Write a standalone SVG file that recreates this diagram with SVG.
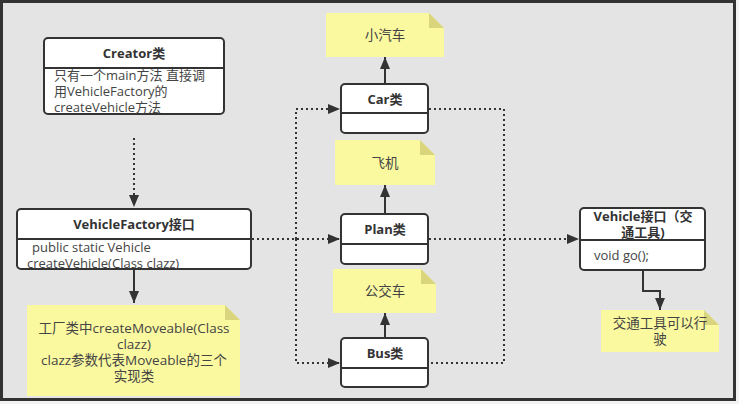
<svg xmlns="http://www.w3.org/2000/svg" width="739" height="404" viewBox="0 0 739 404">
<defs>
<style>
.box{fill:#fff;stroke:#333;stroke-width:2}
.div{stroke:#333;stroke-width:2}
.note{fill:#fbf9a0}
.fold{fill:#d9d47e}
.t{font-family:"Open Sans","Noto Sans CJK SC",sans-serif;font-size:13px;fill:#444}
.n{font-size:13.5px}
.b{font-family:"Open Sans","Noto Sans CJK SC",sans-serif;font-size:13px;font-weight:bold;fill:#333}
.c{text-anchor:middle}
.dot{fill:none;stroke:#333;stroke-width:2;stroke-dasharray:2 3}
.sol{fill:none;stroke:#333;stroke-width:2}
</style>
<marker id="ah" viewBox="0 0 12 10" refX="12" refY="5" markerWidth="12" markerHeight="10" markerUnits="userSpaceOnUse" orient="auto">
<path d="M0,0 L12,5 L0,10 Z" fill="#333"/>
</marker>
</defs>
<rect x="0" y="0" width="739" height="404" fill="#f2f2f2"/>
<rect x="1.5" y="1.5" width="733" height="398" fill="#e4e4e4" stroke="#333" stroke-width="3"/>

<g id="connectors">
<path class="dot" d="M134,138 V207" marker-end="url(#ah)"/>
<path class="sol" d="M134,269 V303" marker-end="url(#ah)"/>
<path class="dot" d="M252,239 H340" marker-end="url(#ah)"/>
<path class="dot" d="M296,239 V109 H340" marker-end="url(#ah)"/>
<path class="dot" d="M296,239 V363 H340" marker-end="url(#ah)"/>
<path class="dot" d="M429,109 H504 V363 H429"/>
<path class="dot" d="M429,239 H579" marker-end="url(#ah)"/>
<path class="sol" d="M385,83 V57" marker-end="url(#ah)"/>
<path class="sol" d="M385,214 V185" marker-end="url(#ah)"/>
<path class="sol" d="M385,338 V313" marker-end="url(#ah)"/>
<path class="sol" d="M643,271 V291 H660 V310" marker-end="url(#ah)"/>
</g>

<g id="creator">
<rect class="box" x="44" y="38" width="180" height="76" rx="4"/>
<line class="div" x1="44" y1="68" x2="224" y2="68"/>
<text class="b c" x="134" y="58">Creator类</text>
<text class="t" x="54" y="80">只有一个main方法 直接调</text>
<text class="t" x="54" y="96">用VehicleFactory的</text>
<text class="t" x="54" y="112">createVehicle方法</text>
</g>

<g id="factory">
<rect class="box" x="17" y="209" width="234" height="60" rx="4"/>
<line class="div" x1="17" y1="239" x2="251" y2="239"/>
<text class="b c" x="134" y="229">VehicleFactory接口</text>
<text class="t" x="32" y="252">public static Vehicle</text>
<text class="t" x="27" y="268">createVehicle(Class clazz)</text>
</g>

<g id="factory-note">
<path class="note" d="M27,305 H225 L240,320 V396 H27 Z"/>
<path class="fold" d="M225,305 L240,320 H225 Z"/>
<text class="t n c" x="134" y="333">工厂类中createMoveable(Class</text>
<text class="t n c" x="134" y="349">clazz)</text>
<text class="t n c" x="134" y="365">clazz参数代表Moveable的三个</text>
<text class="t n c" x="134" y="381">实现类</text>
</g>

<g id="car">
<rect class="box" x="341" y="84" width="87" height="49" rx="4"/>
<line class="div" x1="341" y1="113" x2="428" y2="113"/>
<text class="b c" x="385" y="104">Car类</text>
</g>

<g id="plan">
<rect class="box" x="341" y="214" width="87" height="50" rx="4"/>
<line class="div" x1="341" y1="244" x2="428" y2="244"/>
<text class="b c" x="385" y="234">Plan类</text>
</g>

<g id="bus">
<rect class="box" x="341" y="338" width="87" height="49" rx="4"/>
<line class="div" x1="341" y1="368" x2="428" y2="368"/>
<text class="b c" x="385" y="358">Bus类</text>
</g>

<g id="car-note">
<path class="note" d="M326,13 H429 L444,28 V57 H326 Z"/>
<path class="fold" d="M429,13 L444,28 H429 Z"/>
<text class="t n c" x="385" y="40">小汽车</text>
</g>

<g id="plan-note">
<path class="note" d="M335,140 H420 L435,155 V185 H335 Z"/>
<path class="fold" d="M420,140 L435,155 H420 Z"/>
<text class="t n c" x="385" y="168">飞机</text>
</g>

<g id="bus-note">
<path class="note" d="M333,269 H421 L436,284 V313 H333 Z"/>
<path class="fold" d="M421,269 L436,284 H421 Z"/>
<text class="t n c" x="385" y="296">公交车</text>
</g>

<g id="vehicle">
<rect class="box" x="580" y="208" width="125" height="62" rx="4"/>
<line class="div" x1="580" y1="240" x2="705" y2="240"/>
<text class="b c" x="643" y="221">Vehicle接口（交</text>
<text class="b c" x="643" y="237">通工具)</text>
<text class="t" x="594" y="260">void go();</text>
</g>

<g id="vehicle-note">
<path class="note" d="M601,310 H704 L719,325 V352 H601 Z"/>
<path class="fold" d="M704,310 L719,325 H704 Z"/>
<text class="t n c" x="660" y="328">交通工具可以行</text>
<text class="t n c" x="660" y="344">驶</text>
</g>
</svg>
